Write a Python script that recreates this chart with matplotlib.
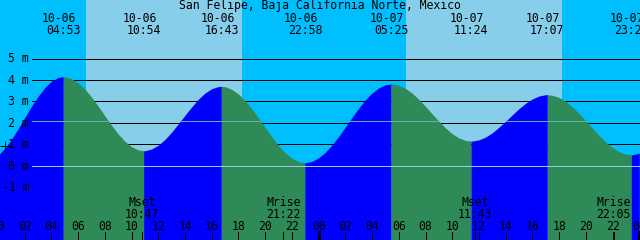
#!/usr/bin/env python3

import numpy as np
import matplotlib
matplotlib.use("Agg")
import matplotlib.pyplot as plt
from matplotlib.patches import Polygon


################################################################################
# data (hours from 10-06 00:00, heights in metres)
################################################################################
title = "San Felipe, Baja California Norte, Mexico"

hours = [i * 0.5 for i in range(97)]
heights = [0.48, 0.80, 1.22, 1.71, 2.24, 2.76, 3.23, 3.64, 3.94, 4.11,
           4.15, 4.06, 3.86, 3.57, 3.20, 2.77, 2.32, 1.88, 1.47, 1.13,
           0.88, 0.73, 0.69, 0.77, 0.95, 1.22, 1.56, 1.95, 2.35, 2.74,
           3.10, 3.39, 3.59, 3.69, 3.68, 3.56, 3.34, 3.03, 2.65, 2.22,
           1.77, 1.34, 0.93, 0.59, 0.34, 0.18, 0.13, 0.19, 0.36, 0.62,
           0.96, 1.36, 1.80, 2.25, 2.68, 3.07, 3.39, 3.63, 3.77, 3.81,
           3.75, 3.60, 3.38, 3.09, 2.76, 2.41, 2.07, 1.75, 1.48, 1.29,
           1.17, 1.14, 1.20, 1.33, 1.53, 1.79, 2.07, 2.37, 2.66, 2.91,
           3.11, 3.25, 3.31, 3.28, 3.18, 2.99, 2.73, 2.43, 2.09, 1.74,
           1.40, 1.09, 0.83, 0.64, 0.53, 0.50, 0.58]

event_hours = [4.883, 10.9, 16.717, 22.967, 29.417, 35.4, 41.117, 47.4]
event_heights = [4.15, 0.69, 3.70, 0.13, 3.81, 1.14, 3.31, 0.50]
event_dates = ["10-06", "10-06", "10-06", "10-06", "10-07", "10-07", "10-07", "10-07"]
event_times = ["04:53", "10:54", "16:43", "22:58", "05:25", "11:24", "17:07", "23:25"]

sunrise = [6.58, 30.57]
sunset = [18.25, 42.23]

moon_hours = [10.783, 21.367, 35.717, 46.083]
moon_names = ["Mset", "Mrise", "Mset", "Mrise"]
moon_times = ["10:47", "21:22", "11:43", "22:05"]

level_ticks = [-1, 0, 1, 2, 3, 4, 5]
msl = 2.1
now_hour, now_height = 0.55, 0.9

################################################################################
PX_H = 13.36        # pixels per hour
PX_M = 21.4         # pixels per metre
W, H = 640, 240
LW = 0.72           # one pixel
NIGHT = "#00BFFF"
DAY = "#87CEEB"
RISE = "#0000FF"
FALL = "#2E8B57"
FONT = dict(family="DejaVu Sans Mono", size=8.3, color="black")

x0 = 2 / PX_H
x1 = (W + 2) / PX_H
ybot = -(H - 165.5) / PX_M
ytop = 165.5 / PX_M

fig = plt.figure(figsize=(6.4, 2.4), dpi=100)
ax = fig.add_axes([0, 0, 1, 1])
ax.set_xlim(x0, x1)
ax.set_ylim(ybot, ytop)
ax.axis("off")

# background, night / day
ax.axvspan(x0, x1, color=NIGHT, lw=0, zorder=0)
for a, b in zip(sunrise, sunset):
    ax.axvspan(a, b, color=DAY, lw=0, zorder=1)

# metre lines (hidden under the water)
for lv in range(1, 6):
    ax.axhline(lv, xmin=32 / W, xmax=1, color="black", lw=LW, zorder=2)

# tide curve: half-hourly readings plus the extremes
t = np.array(hours + event_hours, dtype=float)
h = np.array(heights + event_heights, dtype=float)
order = np.argsort(t)
t, h = t[order], h[order]

bounds = [t[0]] + event_hours + [t[-1]]
for i in range(len(bounds) - 1):
    a, b = bounds[i], bounds[i + 1]
    m = (t >= a) & (t <= b)
    rising = (i % 2 == 0)
    ax.fill_between(t[m], ybot, h[m], color=RISE if rising else FALL,
                    lw=0, zorder=3)

water = Polygon(np.column_stack([np.r_[t[0], t, t[-1]], np.r_[ybot, h, ybot]]),
                closed=True, fill=False, lw=0, transform=ax.transData)
ax.add_patch(water)
water.set_visible(False)

ln = ax.axhline(msl, xmin=32 / W, xmax=1, color="#5FB0BC", lw=LW, zorder=4)
ln.set_clip_path(water)
ax.axhline(0, xmin=32 / W, xmax=1, color="#8CCFF0", lw=LW, zorder=4)

ax.plot([now_hour], [now_height], marker="+", color="black", ms=7, mew=LW,
        zorder=6)

# level labels
for lv in level_ticks:
    ax.annotate(f"{lv} m", xy=(29 / W, lv), xycoords=("axes fraction", "data"),
                xytext=(0, -4), textcoords="offset pixels",
                ha="right", va="baseline", zorder=7, **FONT)

# title and high / low labels
ax.text(0.5, 1 - 9.5 / H, title, transform=ax.transAxes, ha="center",
        va="baseline", zorder=7, **FONT)
for eh, d, tm in zip(event_hours, event_dates, event_times):
    ax.annotate(d, xy=(eh, 1 - 21.7 / H), xycoords=("data", "axes fraction"),
                xytext=(-4, 0), textcoords="offset pixels",
                ha="center", va="baseline", zorder=7, **FONT)
    ax.annotate(tm, xy=(eh, 1 - 34.3 / H), xycoords=("data", "axes fraction"),
                ha="center", va="baseline", zorder=7, **FONT)

# moon events
for mh, nm, tm in zip(moon_hours, moon_names, moon_times):
    ax.text(mh, 1 - 206 / H, nm, transform=ax.get_xaxis_transform(),
            ha="center", va="baseline", zorder=7, **FONT)
    ax.text(mh, 1 - 217.7 / H, tm, transform=ax.get_xaxis_transform(),
            ha="center", va="baseline", zorder=7, **FONT)
    ax.axvline(mh, ymin=0, ymax=8 / H, color="black", lw=LW, zorder=7)

# hour axis
for hr in range(0, 49, 2):
    ax.text(hr, 1 - 230 / H, f"{hr % 24:02d}", transform=ax.get_xaxis_transform(),
            ha="center", va="baseline", zorder=7, **FONT)
    ax.axvline(hr, ymin=0, ymax=8 / H, color="black",
               lw=2.2 if hr % 24 == 0 else LW, zorder=7)

fig.savefig("out.png", dpi=100)
